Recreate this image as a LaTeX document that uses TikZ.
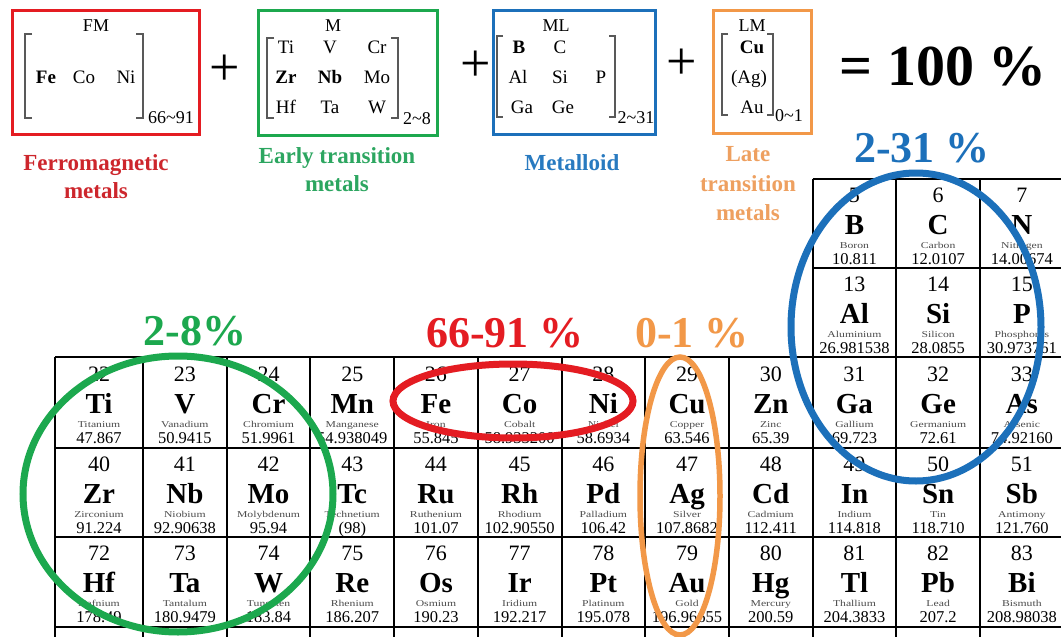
\documentclass[tikz,border=0pt]{standalone}
\usepackage{fontspec}
\setmainfont{Liberation Serif}
\definecolor{cred}{RGB}{228,28,34}
\definecolor{cgreen}{RGB}{28,168,78}
\definecolor{cblue}{RGB}{28,112,186}
\definecolor{corange}{RGB}{242,152,72}
\definecolor{lred}{RGB}{205,38,44}
\definecolor{lgreen}{RGB}{44,166,96}
\definecolor{lblue}{RGB}{40,122,192}
\definecolor{lorange}{RGB}{238,160,96}
\newcommand\prow[2]{%
  \foreach \x/\n/\s/\e/\m in {#2} {%
    \node[anum] (n\n) at (\x,{#1+23.5}) {\n};
    \node[asym] (s\n) at (\x,{#1+55}) {\s};
    \node[aname] (e\n) at (\x,{#1+69}) {\scalebox{1.3}[1]{\e}};
    \node[amass] (m\n) at (\x,{#1+85}) {\m};
  }}
\begin{document}
\begin{tikzpicture}[x=1pt,y=-1pt,
  anum/.style={font=\fontsize{22}{22}\selectfont, inner sep=0, anchor=base},
  asym/.style={font=\bfseries\fontsize{29}{29}\selectfont, inner sep=0, anchor=base},
  aname/.style={font=\fontsize{9}{9}\selectfont, inner sep=0, anchor=base, text=black!70},
  amass/.style={font=\fontsize{16.5}{16.5}\selectfont, inner sep=0, anchor=base},
  ptline/.style={line width=2, black},
  fel/.style={font=\fontsize{19}{19}\selectfont, inner sep=0, anchor=base},
  fhead/.style={font=\fontsize{18}{18}\selectfont, inner sep=0, anchor=base},
  fsub/.style={font=\fontsize{18}{18}\selectfont, inner sep=0, anchor=base},
  brk/.style={line width=1.2, black!65},
  fbox/.style={line width=3},
  plus/.style={font=\fontsize{54}{54}\selectfont, inner sep=0},
  lab/.style={font=\bfseries\fontsize{23}{23}\selectfont, inner sep=0, anchor=base},
  big/.style={font=\bfseries\fontsize{44}{44}\selectfont, inner sep=0, anchor=base},
  ring/.style={line width=7}]
\useasboundingbox (0,0) rectangle (1061,637);
\fill[white] (0,0) rectangle (1061,637);

% ---------- formula ----------
% FM box
\draw[fbox, cred] (12,10) rectangle (199,134);
\node[fhead] (fmh) at (96,31) {FM};
\draw[brk] (32,34) -- (25,34) -- (25,118) -- (32,118);
\draw[brk] (136,34) -- (143,34) -- (143,118) -- (136,118);
\node[fel, font=\bfseries\fontsize{19}{19}\selectfont] (fmfe) at (46,83.5) {Fe};
\node[fel] (fmco) at (84,83.5) {Co};
\node[fel] (fmni) at (126,83.5) {Ni};
\node[fsub] (fmsub) at (171,123) {66{\textasciitilde}91};
\node[plus] (p1) at (225,70) {+};
% M box
\draw[fbox, cgreen] (258,10) rectangle (437,135);
\node[fhead] (mh) at (333,31) {M};
\draw[brk] (274,38) -- (267,38) -- (267,118) -- (274,118);
\draw[brk] (391,38) -- (398,38) -- (398,118) -- (391,118);
\node[fel] (mti) at (286,53.5) {Ti};
\node[fel] (mv) at (330,53.5) {V};
\node[fel] (mcr) at (377,53.5) {Cr};
\node[fel, font=\bfseries\fontsize{19}{19}\selectfont] (mzr) at (286,83.5) {Zr};
\node[fel, font=\bfseries\fontsize{19}{19}\selectfont] (mnb) at (330,83.5) {Nb};
\node[fel] (mmo) at (377,83.5) {Mo};
\node[fel] (mhf) at (286,113.5) {Hf};
\node[fel] (mta) at (330,113.5) {Ta};
\node[fel] (mw) at (377,113.5) {W};
\node[fsub] (msub) at (417,124) {2{\textasciitilde}8};
\node[plus] (p2) at (476,66) {+};
% ML box
\draw[fbox, cblue] (493,10) rectangle (655,134);
\node[fhead] (mlh) at (556,31) {ML};
\draw[brk] (503,36) -- (497,36) -- (497,117) -- (503,117);
\draw[brk] (609,36) -- (615,36) -- (615,117) -- (609,117);
\node[fel, font=\bfseries\fontsize{19}{19}\selectfont] (mlb) at (519,53.5) {B};
\node[fel] (mlc) at (560,53.5) {C};
\node[fel] (mlal) at (518,83.5) {Al};
\node[fel] (mlsi) at (560,83.5) {Si};
\node[fel] (mlp) at (601,83.5) {P};
\node[fel] (mlga) at (522,113.5) {Ga};
\node[fel] (mlge) at (563,113.5) {Ge};
\node[fsub] (mlsub) at (636,123) {2{\textasciitilde}31};
\node[plus] (p3) at (682,64) {+};
% LM box
\draw[fbox, corange] (713,10) rectangle (811,133);
\node[fhead] (lmh) at (752,31) {LM};
\draw[brk] (728,34) -- (722,34) -- (722,115) -- (728,115);
\draw[brk] (767,34) -- (773,34) -- (773,115) -- (767,115);
\node[fel, font=\bfseries\fontsize{19}{19}\selectfont] (lmcu) at (752,53.5) {Cu};
\node[fel] (lmag) at (749,83.5) {(Ag)};
\node[fel] (lmau) at (752,113.5) {Au};
\node[fsub] (lmsub) at (789,121) {0{\textasciitilde}1};
% = 100 %
\node[font=\bfseries\fontsize{58}{58}\selectfont, inner sep=0, anchor=base] (eq) at (943,85) {= 100 \%};

% labels
\node[lab, text=lred] (l1a) at (96,170) {Ferromagnetic};
\node[lab, text=lred] (l1b) at (96,198) {metals};
\node[lab, text=lgreen] (l2a) at (337,163) {Early transition};
\node[lab, text=lgreen] (l2b) at (337,191) {metals};
\node[lab, text=lblue] (l3) at (572,170) {Metalloid};
\node[lab, text=lorange] (l4a) at (748,161) {Late};
\node[lab, text=lorange] (l4b) at (748,191) {transition};
\node[lab, text=lorange] (l4c) at (748,220) {metals};

% ---------- periodic table ----------
\foreach \yy in {357,448,537,627} \draw[ptline] (55,\yy) -- (1061,\yy);
\foreach \xx in {55,143,226.7,310.4,394.1,477.8,561.5,645.2,728.9,812.6,896.3,980} \draw[ptline] (\xx,357) -- (\xx,637);
\foreach \yy in {179,268} \draw[ptline] (812.6,\yy) -- (1061,\yy);
\foreach \xx in {812.6,896.3,980} \draw[ptline] (\xx,179) -- (\xx,357);

\prow{179}{854.45/5/B/Boron/10.811, 938.15/6/C/Carbon/12.0107, 1021.85/7/N/Nitrogen/14.00674}
\prow{268}{854.45/13/Al/Aluminium/26.981538, 938.15/14/Si/Silicon/28.0855, 1021.85/15/P/Phosphorus/30.973761}
\prow{358}{99/22/Ti/Titanium/47.867, 184.85/23/V/Vanadium/50.9415, 268.55/24/Cr/Chromium/51.9961, 352.25/25/Mn/Manganese/54.938049, 435.95/26/Fe/Iron/55.845, 519.65/27/Co/Cobalt/58.933200, 603.35/28/Ni/Nickel/58.6934, 687.05/29/Cu/Copper/63.546, 770.75/30/Zn/Zinc/65.39, 854.45/31/Ga/Gallium/69.723, 938.15/32/Ge/Germanium/72.61, 1021.85/33/As/Arsenic/74.92160}
\prow{448}{99/40/Zr/Zirconium/91.224, 184.85/41/Nb/Niobium/92.90638, 268.55/42/Mo/Molybdenum/95.94, 352.25/43/Tc/Technetium/(98), 435.95/44/Ru/Ruthenium/101.07, 519.65/45/Rh/Rhodium/102.90550, 603.35/46/Pd/Palladium/106.42, 687.05/47/Ag/Silver/107.8682, 770.75/48/Cd/Cadmium/112.411, 854.45/49/In/Indium/114.818, 938.15/50/Sn/Tin/118.710, 1021.85/51/Sb/Antimony/121.760}
\prow{537}{99/72/Hf/Hafnium/178.49, 184.85/73/Ta/Tantalum/180.9479, 268.55/74/W/Tungsten/183.84, 352.25/75/Re/Rhenium/186.207, 435.95/76/Os/Osmium/190.23, 519.65/77/Ir/Iridium/192.217, 603.35/78/Pt/Platinum/195.078, 687.05/79/Au/Gold/196.96655, 770.75/80/Hg/Mercury/200.59, 854.45/81/Tl/Thallium/204.3833, 938.15/82/Pb/Lead/207.2, 1021.85/83/Bi/Bismuth/208.98038}

% ---------- percentages ----------
\node[big, text=cblue] (pc1) at (922,162) {2-31 \%};
\node[big, text=cgreen] (pc2) at (195,345) {2-8\%};
\node[big, text=cred] (pc3) at (505,347) {66-91 \%};
\node[big, text=corange] (pc4) at (692,347) {0-1 \%};

% ---------- rings ----------
\draw[ring, cblue] (916,327) ellipse [x radius=125, y radius=154];
\draw[ring, cgreen] (178,494) ellipse [x radius=155, y radius=138];
\draw[ring, cred] (513,401) ellipse [x radius=120, y radius=37];
\draw[line width=5.5, corange] (680,496) ellipse [x radius=40, y radius=139];
\end{tikzpicture}
\end{document}
